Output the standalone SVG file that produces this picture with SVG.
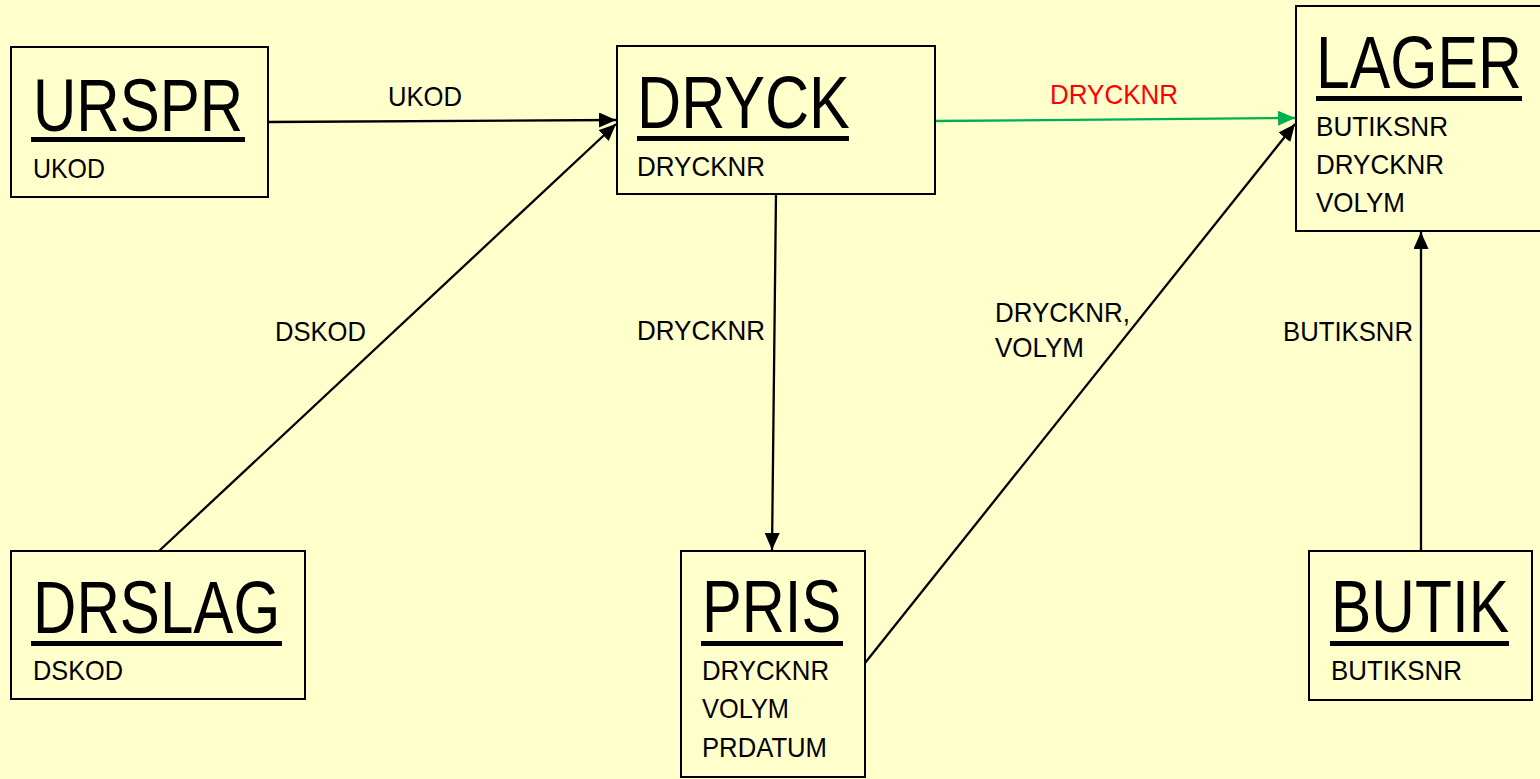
<svg xmlns="http://www.w3.org/2000/svg" width="1540" height="779" viewBox="0 0 1540 779">
<defs>
<style>
.box{fill:#FFFFCC;stroke:#000;stroke-width:2}
.title{font-family:"Liberation Sans",Arial,sans-serif;font-size:75px;fill:#000}
.attr{font-family:"Liberation Sans",Arial,sans-serif;font-size:28px;fill:#000}
.lbl{font-family:"Liberation Sans",Arial,sans-serif;font-size:28px;fill:#000}
.red{fill:#FF0000}
.ul{fill:#000}
.conn{stroke:#000;stroke-width:2.3;fill:none}
.green{stroke:#00B050}
</style>
<marker id="ab" markerWidth="18" markerHeight="16" refX="17" refY="7.5" orient="auto" markerUnits="userSpaceOnUse">
<path d="M0,0 L17,7.5 L0,15 z" fill="#000"/>
</marker>
<marker id="ag" markerWidth="18" markerHeight="16" refX="17" refY="7.5" orient="auto" markerUnits="userSpaceOnUse">
<path d="M0,0 L17,7.5 L0,15 z" fill="#00B050"/>
</marker>
</defs>
<rect width="1540" height="779" fill="#FFFFCC"/>

<g id="connectors">
<line class="conn" x1="268" y1="122" x2="616" y2="120" marker-end="url(#ab)"/>
<line class="conn" x1="159" y1="551" x2="616" y2="124" marker-end="url(#ab)"/>
<line class="conn" x1="776" y1="194" x2="772" y2="550" marker-end="url(#ab)"/>
<line class="conn green" x1="935" y1="121" x2="1295" y2="118" marker-end="url(#ag)"/>
<line class="conn" x1="865" y1="663" x2="1295" y2="124" marker-end="url(#ab)"/>
<line class="conn" x1="1421" y1="551" x2="1421" y2="232" marker-end="url(#ab)"/>
<text class="lbl" x="388" y="106" textLength="74" lengthAdjust="spacingAndGlyphs">UKOD</text>
<text class="lbl" x="275" y="341" textLength="91" lengthAdjust="spacingAndGlyphs">DSKOD</text>
<text class="lbl" x="637" y="340" textLength="128" lengthAdjust="spacingAndGlyphs">DRYCKNR</text>
<text class="lbl red" x="1050" y="104" textLength="128" lengthAdjust="spacingAndGlyphs">DRYCKNR</text>
<text class="lbl" x="995" y="322" textLength="135" lengthAdjust="spacingAndGlyphs">DRYCKNR,</text>
<text class="lbl" x="995" y="357" textLength="89" lengthAdjust="spacingAndGlyphs">VOLYM</text>
<text class="lbl" x="1283" y="341" textLength="130" lengthAdjust="spacingAndGlyphs">BUTIKSNR</text>
</g>

<g id="urspr">
<rect class="box" x="11" y="47" width="257" height="150"/>
<text class="title" transform="translate(33,131) scale(0.8,1)" x="0" y="0" textLength="262.5" lengthAdjust="spacingAndGlyphs">URSPR</text>
<rect class="ul" x="31" y="137" width="214" height="5"/>
<text class="attr" x="33" y="178" textLength="72" lengthAdjust="spacingAndGlyphs">UKOD</text>
</g>

<g id="dryck">
<rect class="box" x="617" y="46" width="318" height="148"/>
<text class="title" transform="translate(637,128) scale(0.8,1)" x="0" y="0" textLength="266" lengthAdjust="spacingAndGlyphs">DRYCK</text>
<rect class="ul" x="637" y="136" width="212" height="5"/>
<text class="attr" x="637" y="176" textLength="128" lengthAdjust="spacingAndGlyphs">DRYCKNR</text>
</g>

<g id="lager">
<rect class="box" x="1296" y="6" width="250" height="225"/>
<text class="title" transform="translate(1316,88) scale(0.8,1)" x="0" y="0" textLength="257.5" lengthAdjust="spacingAndGlyphs">LAGER</text>
<rect class="ul" x="1316" y="96" width="206" height="5"/>
<text class="attr" x="1316" y="136" textLength="132" lengthAdjust="spacingAndGlyphs">BUTIKSNR</text>
<text class="attr" x="1316" y="174" textLength="128" lengthAdjust="spacingAndGlyphs">DRYCKNR</text>
<text class="attr" x="1316" y="212" textLength="89" lengthAdjust="spacingAndGlyphs">VOLYM</text>
</g>

<g id="drslag">
<rect class="box" x="11" y="551" width="294" height="148"/>
<text class="title" transform="translate(33,633) scale(0.8,1)" x="0" y="0" textLength="309" lengthAdjust="spacingAndGlyphs">DRSLAG</text>
<rect class="ul" x="31" y="641" width="251" height="5"/>
<text class="attr" x="33" y="680" textLength="90" lengthAdjust="spacingAndGlyphs">DSKOD</text>
</g>

<g id="pris">
<rect class="box" x="681" y="551" width="184" height="226"/>
<text class="title" transform="translate(702,632) scale(0.8,1)" x="0" y="0" textLength="174" lengthAdjust="spacingAndGlyphs">PRIS</text>
<rect class="ul" x="701" y="641" width="142" height="5"/>
<text class="attr" x="702" y="680" textLength="127" lengthAdjust="spacingAndGlyphs">DRYCKNR</text>
<text class="attr" x="702" y="718" textLength="87" lengthAdjust="spacingAndGlyphs">VOLYM</text>
<text class="attr" x="702" y="757" textLength="125" lengthAdjust="spacingAndGlyphs">PRDATUM</text>
</g>

<g id="butik">
<rect class="box" x="1309" y="551" width="223" height="149"/>
<text class="title" transform="translate(1331,632) scale(0.8,1)" x="0" y="0" textLength="222.5" lengthAdjust="spacingAndGlyphs">BUTIK</text>
<rect class="ul" x="1330" y="641" width="179" height="5"/>
<text class="attr" x="1331" y="680" textLength="131" lengthAdjust="spacingAndGlyphs">BUTIKSNR</text>
</g>
</svg>
